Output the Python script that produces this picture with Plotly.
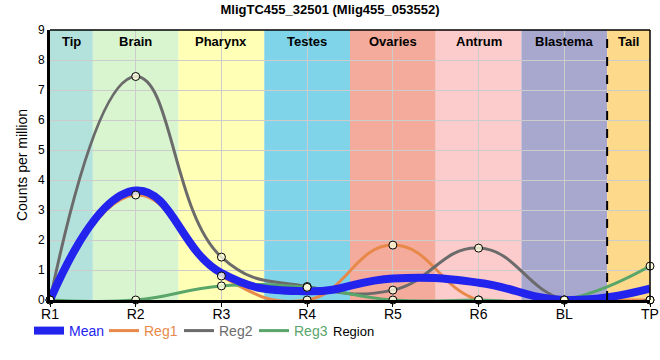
import plotly.graph_objects as go

categories = ["R1", "R2", "R3", "R4", "R5", "R6", "BL", "TP"]
reg1 = [0, 3.5, 0.8, 0.0, 1.83, 0.0, 0.0, 0.0]
reg2 = [0, 7.45, 1.43, 0.45, 0.33, 1.73, 0.0, 0.0]
reg3 = [0, 0.0, 0.47, 0.42, 0.0, 0.0, 0.0, 1.13]
mean = [round((a + b + c) / 3, 3) for a, b, c in zip(reg1, reg2, reg3)]

band_names = ["Tip", "Brain", "Pharynx", "Testes", "Ovaries", "Antrum", "Blastema", "Tail"]
band_colors = ["#b3e2dd", "#d8f5d0", "#ffffb5", "#7fd4ea", "#f4ab9c", "#fccbcb", "#a8a8cf", "#fdd98c"]

xs = list(range(len(categories)))
FONT = "Liberation Sans, Arial, sans-serif"

c_mean = "#2323ee"
c1 = "#e8894a"
c2 = "#6b6b6b"
c3 = "#5aa66a"
SMOOTH = 1.3

fig = go.Figure()

for k, (name, vals, col) in enumerate([("Reg1", reg1, c1), ("Reg2", reg2, c2), ("Reg3", reg3, c3)]):
    fig.add_trace(go.Scatter(
        x=xs, y=vals, mode="lines", line=dict(color=col, width=3, shape="spline", smoothing=SMOOTH),
        name=f"<span style='color:{col}'>{name}</span>", legendrank=2 + k, hoverinfo="skip"))

fig.add_trace(go.Scatter(
    x=xs, y=mean, mode="lines", line=dict(color=c_mean, width=8, shape="spline", smoothing=SMOOTH),
    name=f"<span style='color:{c_mean}'>Mean</span>", legendrank=1, hoverinfo="skip"))

for vals in [reg1, reg2, reg3]:
    fig.add_trace(go.Scatter(
        x=xs, y=vals, mode="markers", showlegend=False, cliponaxis=False, hoverinfo="skip",
        marker=dict(size=8, color="rgba(255,255,225,0.8)", line=dict(color="black", width=1))))

# background bands
n = len(band_names)
for i, (bn, bc) in enumerate(zip(band_names, band_colors)):
    x0 = max(i - 0.5, 0)
    x1 = min(i + 0.5, n - 1)
    fig.add_shape(type="rect", xref="x", yref="paper", x0=x0, x1=x1, y0=0, y1=1,
                  fillcolor=bc, line=dict(width=0), layer="below")
    fig.add_annotation(x=(x0 + x1) / 2, y=1, xref="x", yref="paper", yanchor="top", yshift=-2,
                       text=f"<b>{bn}</b>", showarrow=False, font=dict(family=FONT, size=13, color="black"))

fig.add_shape(type="line", xref="x", yref="paper", x0=6.5, x1=6.5, y0=0, y1=1,
              line=dict(color="black", width=2, dash="dash"), layer="above")

fig.add_annotation(x=0.505, y=-0.115, xref="paper", yref="paper", xanchor="center", yanchor="middle",
                   text="Region", showarrow=False, font=dict(family=FONT, size=13, color="black"))

fig.update_layout(
    width=660, height=360,
    margin=dict(l=50, r=10, t=30, b=60, autoexpand=False),
    paper_bgcolor="white", plot_bgcolor="white",
    title=dict(text="<b>MligTC455_32501 (Mlig455_053552)</b>", x=0.5, xanchor="center", y=0.975,
               yanchor="middle", font=dict(family=FONT, size=13, color="black")),
    font=dict(family=FONT, size=13, color="black"),
    showlegend=True,
    legend=dict(orientation="h", x=29 / 660, y=(360 - 331) / 360, xref="container", yref="container",
                xanchor="left", yanchor="middle", entrywidth=30, entrywidthmode="pixels",
                font=dict(family=FONT, size=14), itemwidth=30, bgcolor="rgba(0,0,0,0)"),
    xaxis=dict(range=[0, 7], tickvals=xs, ticktext=categories, showgrid=True, gridcolor="#cccccc",
               gridwidth=1, zeroline=False, showline=True, linecolor="black", linewidth=3,
               automargin=False, ticks="outside", ticklen=4, tickcolor="black", ticklabelstandoff=-5,
               tickfont=dict(family=FONT, size=14, color="black"), fixedrange=True),
    yaxis=dict(range=[0, 9], dtick=1, showgrid=True, gridcolor="#cccccc", gridwidth=1, zeroline=False,
               showline=True, linecolor="black", linewidth=3, ticks="", automargin=False,
               title=dict(text="Counts per million", font=dict(family=FONT, size=14), standoff=8),
               tickfont=dict(family=FONT, size=12, color="black"), fixedrange=True),
)

# top and right border
fig.add_shape(type="line", xref="paper", yref="paper", x0=0, x1=1, y0=1, y1=1, line=dict(color="black", width=1.5))
fig.add_shape(type="line", xref="paper", yref="paper", x0=1, x1=1, y0=0, y1=1, line=dict(color="black", width=1.5))

fig.write_html("out.html", config={"displayModeBar": False},
               post_script="document.body.style.margin='0';")
